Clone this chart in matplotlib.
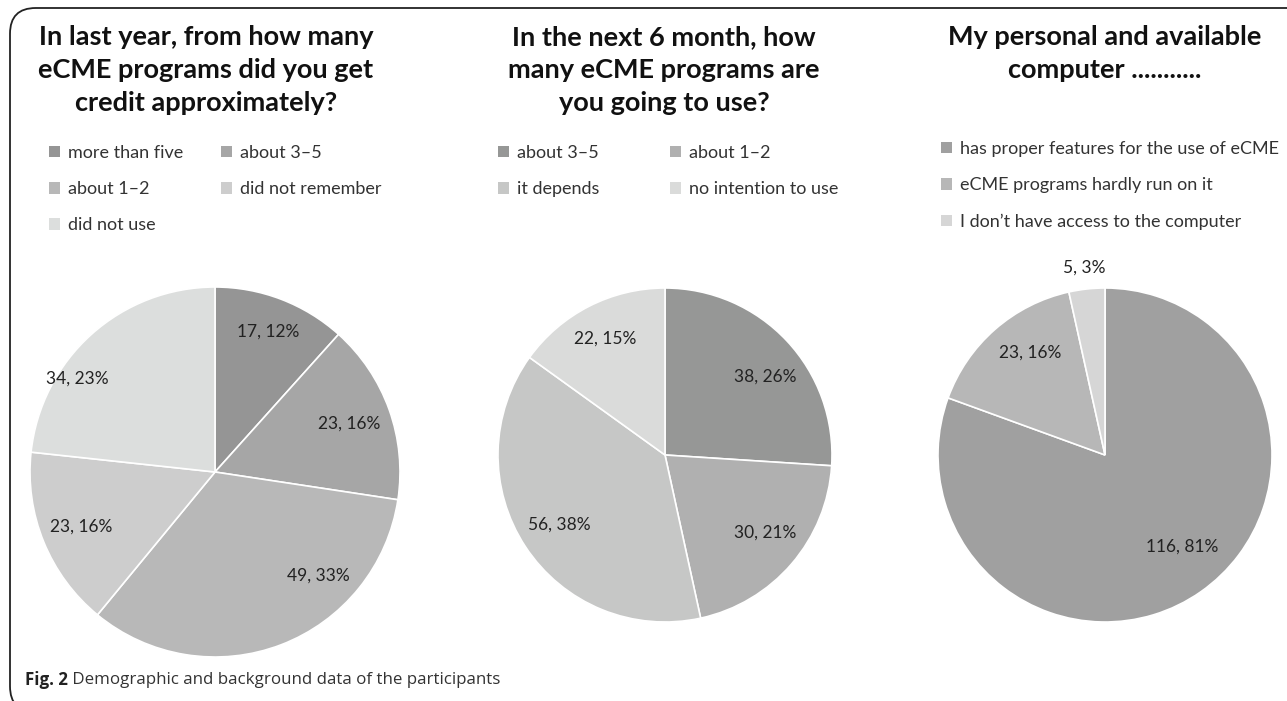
import matplotlib
matplotlib.use("Agg")
import matplotlib.pyplot as plt
import numpy as np
from matplotlib.patches import Patch, FancyBboxPatch

plt.rcParams['font.family'] = ['Lato', 'DejaVu Sans']

# --- data ---
title1 = "In last year, from how many\neCME programs did you get\ncredit approximately?"
cats1 = ["more than five", "about 3–5", "about 1–2", "did not remember", "did not use"]
counts1 = [17, 23, 49, 23, 34]
pcts1 = [12, 16, 33, 16, 23]
colors1 = ["#959595", "#a6a6a6", "#b8b8b8", "#cdcdcd", "#dcdedd"]

title2 = "In the next 6 month, how\nmany eCME programs are\nyou going to use?"
cats2 = ["about 3–5", "about 1–2", "it depends", "no intention to use"]
counts2 = [38, 30, 56, 22]
pcts2 = [26, 21, 38, 15]
colors2 = ["#969796", "#b0b0b0", "#c6c7c6", "#dadbda"]

title3 = "My personal and available\ncomputer ..........."
cats3 = ["has proper features for the use of eCME",
         "eCME programs hardly run on it",
         "I don\u2019t have access to the computer"]
counts3 = [116, 23, 5]
pcts3 = [81, 16, 3]
colors3 = ["#a0a0a0", "#b7b7b7", "#d6d6d6"]

caption_bold = "Fig. 2"
caption_text = " Demographic and background data of the participants"

W, H = 1287, 701
fig = plt.figure(figsize=(W / 100, H / 100), dpi=100)


def fx(px):
    return px / W


def fy(py):
    return 1 - py / H


def draw_pie(cx, cy, r, counts, pcts, colors, label_r, label_turn):
    ax = fig.add_axes([fx(cx - r), fy(cy + r), 2 * r / W, 2 * r / H])
    wedges, _ = ax.pie(counts, colors=colors, startangle=90, counterclock=False,
                       radius=1, wedgeprops=dict(edgecolor="white", linewidth=1.2))
    ax.set_xlim(-1, 1)
    ax.set_ylim(-1, 1)
    ax.set_aspect("equal")
    ax.axis("off")
    # labels sit near the middle of each wedge, nudged like the original layout
    for w, c, p, lr, turn in zip(wedges, counts, pcts, label_r, label_turn):
        th = np.deg2rad((w.theta1 + w.theta2) / 2 + turn)
        ax.text(lr * np.cos(th), lr * np.sin(th), f"{c}, {p}%", ha="center", va="center",
                fontsize=12.5, color="#222222", clip_on=False)
    return wedges


def draw_legend(x, y, cats, colors, order, ncol, colspace):
    handles = [Patch(facecolor=colors[i], edgecolor="none") for i in order]
    labels = [cats[i] for i in order]
    fig.legend(handles, labels, loc="upper left", bbox_to_anchor=(fx(x), fy(y)),
               ncol=ncol, frameon=False, fontsize=13, handlelength=0.6, handleheight=0.6,
               handletextpad=0.45, labelspacing=1.12, columnspacing=colspace,
               borderpad=0, borderaxespad=0, labelcolor="#333333")


draw_pie(215, 472, 185, counts1, pcts1, colors1,
         [0.81, 0.77, 0.79, 0.78, 0.9], [0, 0, 24, 0, 14])
draw_pie(665, 455, 167, counts2, pcts2, colors2,
         [0.76, 0.76, 0.76, 0.78], [-5, 3, 0, 0])
draw_pie(1105, 455, 167, counts3, pcts3, colors3,
         [0.72, 0.76, 1.13], [5, -5, 0])

for cx, title in [(206, title1), (664, title2), (1105, title3)]:
    fig.text(fx(cx), fy(25), title, ha="center", va="top", fontsize=19.5, fontweight="bold",
             linespacing=1.45, color="#111111")

draw_legend(49, 145, cats1, colors1, [0, 2, 4, 1, 3], 2, 2.1)
draw_legend(498, 145, cats2, colors2, [0, 2, 1, 3], 2, 3.9)
draw_legend(941, 141, cats3, colors3, [0, 1, 2], 1, 1.0)

# frame, open to the right and below
frame = FancyBboxPatch((fx(10), fy(712)), fx(1330) - fx(10), fy(8) - fy(712),
                       boxstyle="round,pad=0,rounding_size=0.02", transform=fig.transFigure,
                       facecolor="none", edgecolor="#222222", linewidth=1.3,
                       mutation_aspect=W / H, clip_on=False)
fig.patches.append(frame)

t = fig.text(fx(25), fy(680), caption_bold, ha="left", va="center", fontsize=12.2,
             fontweight="bold", color="#222222", family=["Open Sans", "DejaVu Sans"])
fig.canvas.draw()
bb = t.get_window_extent()
fig.text(bb.x1 / W, fy(680), caption_text, ha="left", va="center", fontsize=12.2,
         color="#333333", family=["Open Sans", "DejaVu Sans"])

fig.savefig("out.png", dpi=100)
